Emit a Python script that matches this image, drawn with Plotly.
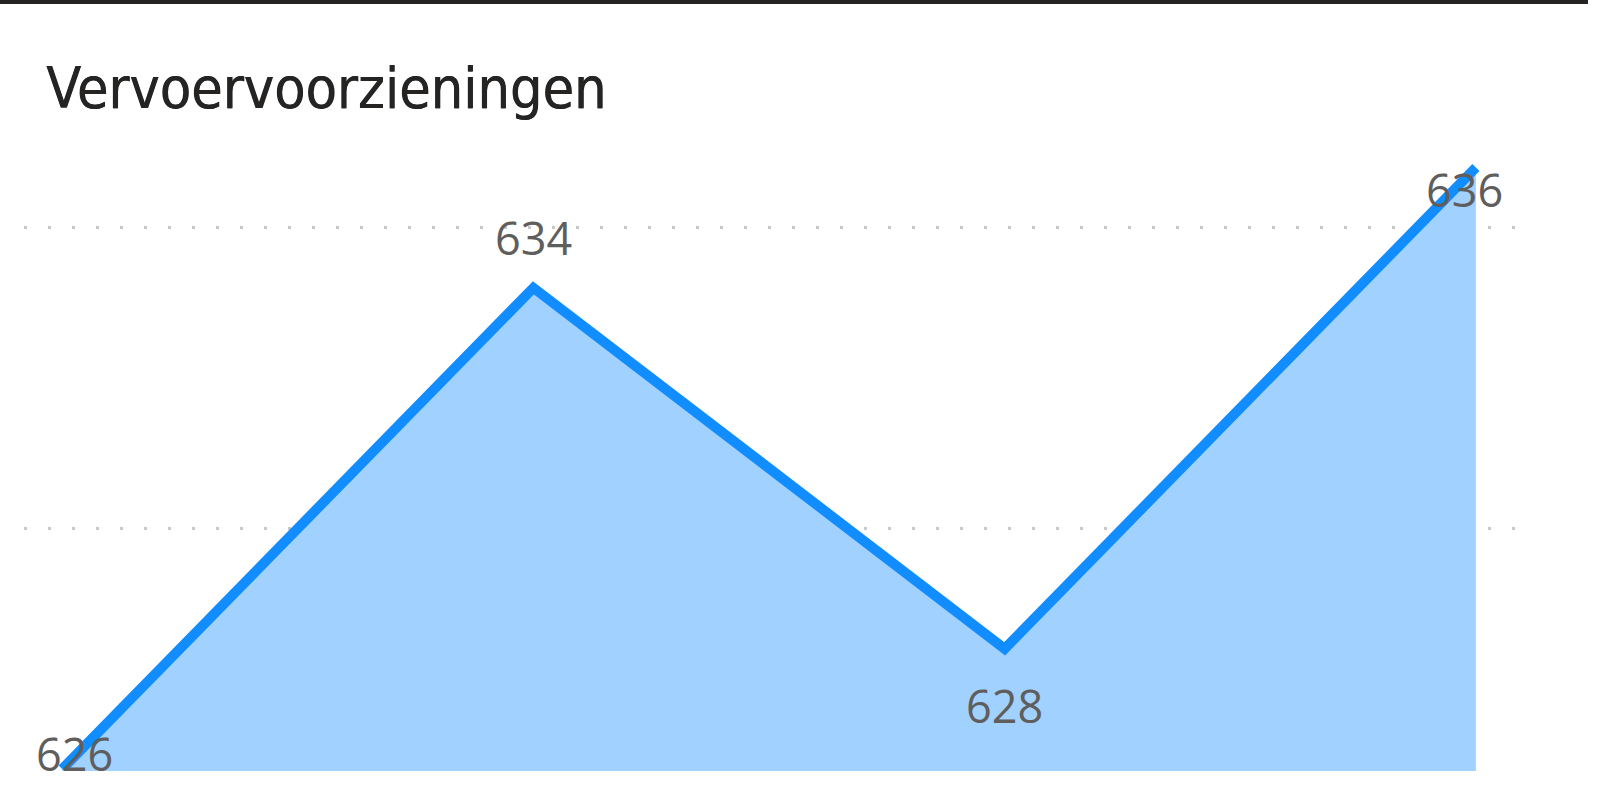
import plotly.graph_objects as go

# ---- data ----
categories = ["P1", "P2", "P3", "P4"]
values = [626, 634, 628, 636]
label_dx = [12, 0, 0, -11]     # label offsets (px)
label_dy = [16, 50, -57, -22]
title_text = "Vervoervoorzieningen"

xs = list(range(len(categories)))

fig = go.Figure()
fig.add_trace(go.Scatter(
    x=xs, y=values, mode="lines",
    line=dict(color="#118DFF", width=10),
    fill="tozeroy", fillcolor="#A0D1FF",
    hoverinfo="skip", showlegend=False,
))

for x, v, dx, dy in zip(xs, values, label_dx, label_dy):
    fig.add_annotation(
        x=x, y=v, text=str(v), showarrow=False,
        xshift=dx, yshift=dy, xanchor="center", yanchor="middle",
        font=dict(family="Open Sans", size=45, color="#605E5C"),
    )

fig.add_annotation(
    xref="paper", yref="paper", x=(44 - 24) / 1491, y=1 + (120 - 88) / 651,
    xanchor="left", yanchor="middle", showarrow=False,
    text=title_text,
    font=dict(family="DejaVu Sans Condensed, Roboto Condensed, Roboto", size=57,
              color="#252423", shadow="0.6px 0px 0px #252423"),
)

# top dark bar
fig.add_shape(type="rect", xref="paper", yref="paper",
              x0=-24 / 1491, x1=(1588 - 24) / 1491,
              y0=1 + (120 - 0) / 651, y1=1 + (120 - 4) / 651,
              fillcolor="#252423", line=dict(width=0), layer="above")

fig.update_layout(
    width=1613, height=804,
    margin=dict(l=24, r=98, t=120, b=33),
    paper_bgcolor="white", plot_bgcolor="white",
    xaxis=dict(range=[-0.081, 3.083], visible=False, showgrid=False, zeroline=False),
    yaxis=dict(range=[625.967, 636.79], tickvals=[630, 635], showticklabels=False,
               showgrid=True, gridcolor="#C8C8C8", gridwidth=3, griddash="3px,21px",
               zeroline=False, showline=False, ticks="", layer="above traces"),
)

fig.write_html(
    "out.html",
    config={"displayModeBar": False, "staticPlot": True},
    post_script="document.body.style.margin='0';document.body.style.padding='0';",
)
